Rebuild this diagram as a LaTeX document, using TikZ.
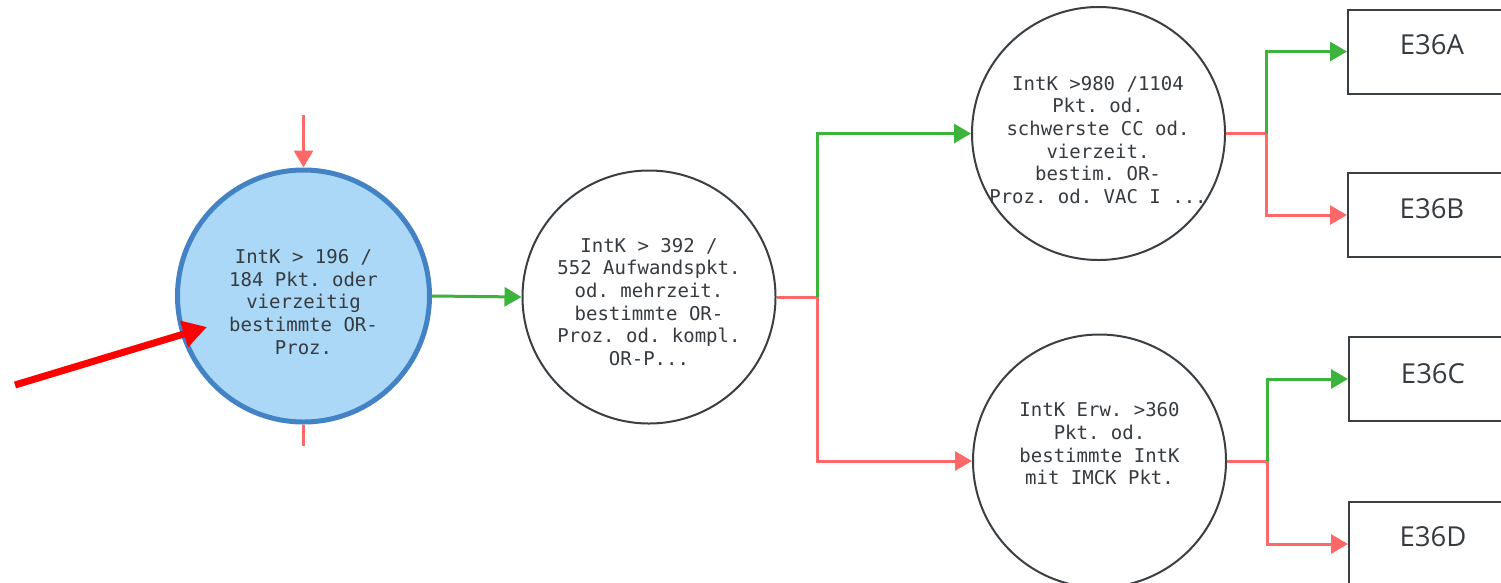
\documentclass[tikz,border=0pt]{standalone}
\usepackage{fontspec}
\setmonofont{DejaVu Sans Mono}
\newfontfamily\boxfont{Open Sans}
\usetikzlibrary{arrows.meta}
\definecolor{nodefill}{HTML}{ABD8F7}
\definecolor{nodeblue}{HTML}{4382C4}
\definecolor{txtgray}{HTML}{363B40}
\definecolor{edgegray}{HTML}{3A3F44}
\definecolor{linered}{HTML}{FF6868}
\definecolor{linegreen}{HTML}{3CB43C}
\definecolor{bigred}{HTML}{FF0000}
\tikzset{
  circnode/.style={circle, draw=edgegray, line width=2pt, minimum size=253pt, inner sep=0pt, fill=white},
  activenode/.style={circle, draw=nodeblue, line width=5pt, minimum size=252pt, inner sep=0pt, fill=nodefill},
  circtext/.style={font=\ttfamily\fontsize{19pt}{22.7pt}\selectfont, text=txtgray, align=center, inner sep=0pt},
  leafbox/.style={draw=edgegray, line width=2pt, minimum width=168pt, minimum height=84pt, inner sep=0pt, fill=white,
    font=\boxfont\fontsize{27.5pt}{30pt}\selectfont, text=txtgray},
  redline/.style={draw=linered, line width=3pt},
  greenline/.style={draw=linegreen, line width=3pt},
  redarrow/.style={redline, -{Triangle[length=17pt,width=19pt]}},
  greenarrow/.style={greenline, -{Triangle[length=17pt,width=19pt]}},
  bigarrow/.style={draw=bigred, line width=7pt, -{Triangle[length=24pt,width=26pt]}},
}
\begin{document}
\begin{tikzpicture}[x=1pt,y=-1pt]
\useasboundingbox (0,0) rectangle (1501,582);
\clip (0,0) rectangle (1501,582);
\fill[white] (0,0) rectangle (1501,582);

% circles
\node[activenode] (c1) at (303.5,296) {};
\node[circnode] (c2) at (649,297) {};
\node[circnode] (c3) at (1098.5,133.5) {};
\node[circnode] (c4) at (1099.5,461) {};

% texts in circles
\node[circtext] (t1) at (303.5,302) {IntK > 196 /\\184 Pkt. oder\\vierzeitig\\bestimmte OR-\\Proz.};
\node[circtext] (t2) at (649,302) {IntK > 392 /\\552 Aufwandspkt.\\od. mehrzeit.\\bestimmte OR-\\Proz. od. kompl.\\OR-P...};
\node[circtext] (t3) at (1098,140) {IntK >980 /1104\\Pkt. od.\\schwerste CC od.\\vierzeit.\\bestim. OR-\\Proz. od. VAC I ...};
\node[circtext] (t4) at (1099.5,444) {IntK Erw. >360\\Pkt. od.\\bestimmte IntK\\mit IMCK Pkt.};

% leaf boxes
\node[leafbox] (bA) at (1432,51.5) {\raisebox{13pt}{E36A}};
\node[leafbox] (bB) at (1432,215) {\raisebox{13pt}{E36B}};
\node[leafbox] (bC) at (1433,379) {\raisebox{11pt}{E36C}};
\node[leafbox] (bD) at (1433,544) {\raisebox{15pt}{E36D}};

% junctions and free ends
\coordinate (top) at (303.5,115);
\coordinate (bot) at (303.5,446);
\coordinate (j1) at (817,297);
\coordinate (j2) at (1266,133.5);
\coordinate (j3) at (1267,461);
\coordinate (ptrtail) at (15,385);
\coordinate (ptrtip) at (207,327);

% connectors
\draw[redarrow] (top) -- (c1.north);
\draw[redline] (c1.south) -- (bot);
\draw[greenarrow] (c1.east) -- (c2.west);

\draw[redline] (c2.east) -- (j1);
\draw[greenarrow] (j1) |- (c3.west);
\draw[redarrow] (j1) |- (c4.west);

\draw[redline] (c3.east) -- (j2);
\draw[greenarrow] (j2) |- (bA.west);
\draw[redarrow] (j2) |- (bB.west);

\draw[redline] (c4.east) -- (j3);
\draw[greenarrow] (j3) |- (bC.west);
\draw[redarrow] (j3) |- (bD.west);

\draw[bigarrow] (ptrtail) -- (ptrtip);
\end{tikzpicture}
\end{document}
